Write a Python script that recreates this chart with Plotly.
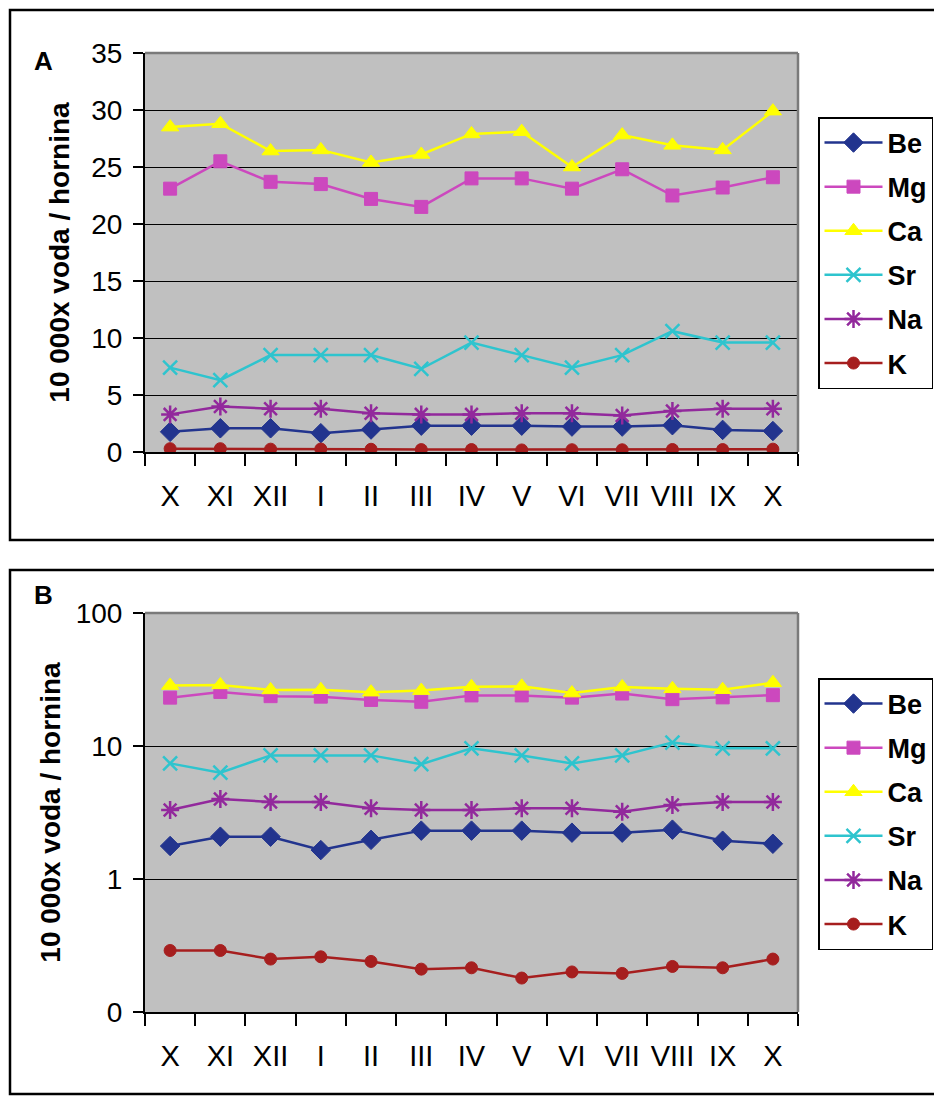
import plotly.graph_objects as go

# months of sampling (Oct -> Oct)
months = ["X", "XI", "XII", "I", "II", "III", "IV", "V", "VI", "VII", "VIII", "IX", "X"]
xpos = list(range(len(months)))

be = [1.77, 2.08, 2.08, 1.65, 1.97, 2.31, 2.31, 2.31, 2.23, 2.23, 2.35, 1.94, 1.84]
mg = [23.1, 25.5, 23.7, 23.5, 22.2, 21.5, 24.0, 24.0, 23.1, 24.8, 22.5, 23.2, 24.1]
ca = [28.5, 28.8, 26.4, 26.5, 25.4, 26.1, 27.9, 28.1, 25.0, 27.8, 26.9, 26.5, 29.9]
sr = [7.4, 6.3, 8.5, 8.5, 8.5, 7.3, 9.6, 8.5, 7.4, 8.5, 10.6, 9.6, 9.6]
na = [3.3, 4.0, 3.8, 3.8, 3.4, 3.3, 3.3, 3.4, 3.4, 3.2, 3.6, 3.8, 3.8]
k = [0.29, 0.29, 0.25, 0.26, 0.24, 0.21, 0.215, 0.18, 0.20, 0.195, 0.22, 0.215, 0.25]

log_ticks = [0.1, 1, 10, 100]
log_ticktext = ["0", "1", "10", "100"]

series = [
    ("Be", be, "#22348E", "diamond", 15, 1),
    ("Mg", mg, "#CC48BE", "square", 13, 1),
    ("Ca", ca, "#FFFF00", "triangle-up", 15, 1),
    ("Sr", sr, "#2EC4CE", "x-thin-open", 14, 2.5),
    ("Na", na, "#92299C", "asterisk-open", 15, 2.5),
    ("K", k, "#A61E1E", "circle", 12, 1),
]

W, H = 934, 1097


def px_x(p):
    return p / W


def px_y(p):
    return 1 - p / H


fig = go.Figure()

for panel, (xa, ya, leg) in enumerate([("x", "y", "legend"), ("x2", "y2", "legend2")]):
    for name, vals, color, sym, size, lw in series:
        fig.add_trace(
            go.Scatter(
                x=xpos,
                y=vals,
                mode="lines+markers",
                name=name,
                xaxis=xa,
                yaxis=ya,
                legend=leg,
                legendgroup=name + str(panel),
                line=dict(color=color, width=2.5),
                marker=dict(symbol=sym, size=size, color=color, line=dict(color=color, width=lw)),
            )
        )

font_family = "Arial, Liberation Sans, sans-serif"
title_font = dict(size=28, color="black", family=font_family, weight="bold")

xaxis_common = dict(
    range=[-0.5, len(months) - 0.5],
    tickmode="array",
    tickvals=xpos,
    ticktext=months,
    ticks="",
    ticklabelstandoff=17,
    showgrid=False,
    zeroline=False,
    showline=True,
    linecolor="black",
    linewidth=2,
    automargin=False,
    tickfont=dict(size=29, color="black", family=font_family),
    minor=dict(tick0=-0.5, dtick=1, ticks="outside", ticklen=12, tickwidth=2, tickcolor="black", showgrid=False),
)

yaxis_common = dict(
    showline=True,
    linecolor="black",
    linewidth=2,
    ticks="outside",
    ticklen=10,
    tickwidth=1.5,
    tickcolor="black",
    ticklabelstandoff=5,
    gridcolor="black",
    gridwidth=1.2,
    automargin=False,
    tickfont=dict(size=28, color="black", family=font_family),
)

legend_common = dict(
    x=px_x(818), xanchor="left", yanchor="top",
    bgcolor="white", bordercolor="black", borderwidth=1.5,
    font=dict(size=27, color="black", family=font_family, weight="bold"),
    tracegroupgap=6,
    itemwidth=58,
)

fig.update_layout(
    width=W,
    height=H,
    margin=dict(l=0, r=0, t=0, b=0, autoexpand=False),
    paper_bgcolor="white",
    plot_bgcolor="#C0C0C0",
    xaxis=dict(domain=[px_x(145), px_x(798)], anchor="y", **xaxis_common),
    yaxis=dict(
        domain=[px_y(452), px_y(53)], anchor="x", range=[0, 35], dtick=5,
        zeroline=False,
        title=dict(text="10 000x voda / hornina", font=title_font, standoff=13),
        **yaxis_common
    ),
    xaxis2=dict(domain=[px_x(145), px_x(798)], anchor="y2", **xaxis_common),
    yaxis2=dict(
        domain=[px_y(1012), px_y(613)], anchor="x2", type="log", range=[-1, 2],
        tickmode="array", tickvals=log_ticks, ticktext=log_ticktext,
        title=dict(text="10 000x voda / hornina", font=title_font, standoff=7),
        **yaxis_common
    ),
    legend=dict(y=px_y(117), **legend_common),
    legend2=dict(y=px_y(678), **legend_common),
    showlegend=True,
)

# panel frames
for y0, y1 in [(10, 540), (570, 1094)]:
    fig.add_shape(
        type="rect", xref="paper", yref="paper",
        x0=px_x(10), x1=px_x(945), y0=px_y(y1), y1=px_y(y0),
        line=dict(color="black", width=2.5), layer="below",
    )

# darker border on top / right of the plot areas
for xr, yr in [("x", "y"), ("x2", "y2")]:
    fig.add_shape(type="line", xref=xr + " domain", yref=yr + " domain",
                  x0=0, x1=1, y0=1, y1=1, line=dict(color="#7A7A7A", width=2.5), layer="above")
    fig.add_shape(type="line", xref=xr + " domain", yref=yr + " domain",
                  x0=1, x1=1, y0=0, y1=1, line=dict(color="#7A7A7A", width=2.5), layer="above")

# panel letters
for letter, ly in [("A", 44), ("B", 595)]:
    fig.add_annotation(
        text=letter, xref="paper", yref="paper", x=px_x(32), y=px_y(ly),
        showarrow=False, font=dict(size=26, color="black", family=font_family, weight="bold"),
    )

fig.write_html(
    "out.html",
    config={"displayModeBar": False},
    post_script="document.body.style.margin='0';",
)
